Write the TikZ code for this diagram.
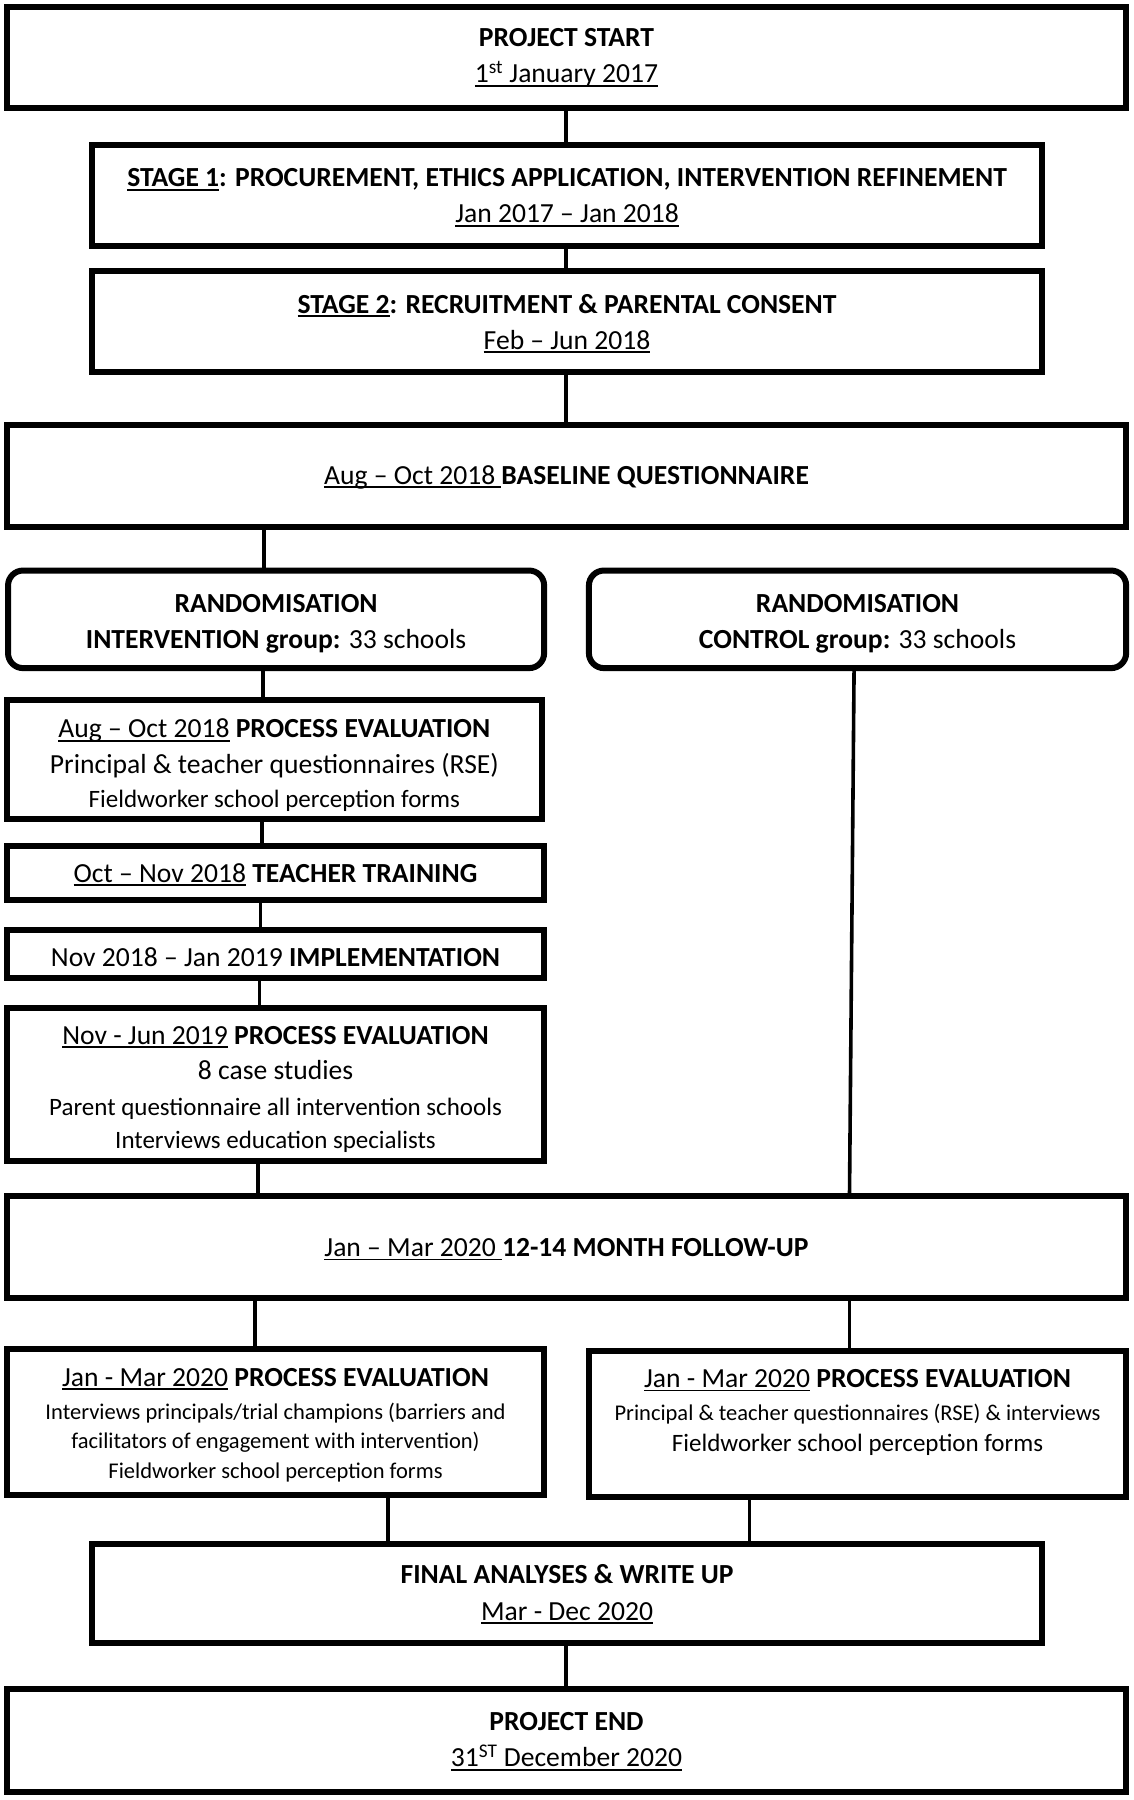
\documentclass[tikz,border=0pt]{standalone}
\usepackage{fontspec}
\setmainfont{Carlito}
\newsavebox\ulbox
\newcommand{\ulx}[1]{\leavevmode\sbox\ulbox{#1}\rlap{\rule[-3.8pt]{\wd\ulbox}{1.8pt}}\usebox\ulbox}
\newcommand{\tp}{\rule{0pt}{34pt}}
\newcommand{\bt}[1]{\rule[-#1pt]{0pt}{#1pt}}
\newcommand{\fsmain}{\fontsize{27.6}{36.2}\selectfont}
\newcommand{\fssmall}{\fontsize{25}{33}\selectfont}
\newcommand{\fsxs}{\fontsize{22.5}{30}\selectfont}
\tikzset{
  box/.style={draw, line width=6pt, rectangle, inner sep=0pt, outer sep=0pt, align=center, font=\fsmain},
  rbox/.style={box, rounded corners=15pt},
  boxat/.style n args={4}{at={({(#1+#3)/2},{(#2+#4)/2})},
      minimum width={(#3-#1)*1.148pt}, minimum height={(#4-#2)*1.148pt}},
  link/.style={line width=3.6pt},
}
\begin{document}
\begin{tikzpicture}[x=1.148pt, y=-1.148pt]
\useasboundingbox (0,0) rectangle (987,1568);
\fill[white] (0,0) rectangle (987,1568);

\node[box, boxat={6}{6}{981}{94}] (start)
  {\tp\textbf{PROJECT START}\\ \ulx{1\textsuperscript{st} January 2017}\bt{19.15}};
\node[box, boxat={80}{126}{908}{214}] (s1)
  {\tp\textbf{\ulx{STAGE 1}: PROCUREMENT, ETHICS APPLICATION, INTERVENTION REFINEMENT}\\ \ulx{Jan 2017 – Jan 2018}\bt{14.56}};
\node[box, boxat={80}{236}{908}{324}] (s2)
  {\tp\textbf{\ulx{STAGE 2}: RECRUITMENT \& PARENTAL CONSENT}\\ \ulx{Feb – Jun 2018}\bt{14.56}};
\node[box, boxat={6}{370}{981}{459}] (base)
  {\tp\ulx{Aug – Oct 2018 }\textbf{BASELINE QUESTIONNAIRE}\bt{17.47}};
\node[rbox, boxat={7}{497}{474}{582}] (rint)
  {\tp\textbf{RANDOMISATION}\\ \textbf{INTERVENTION group:} 33 schools\bt{11.12}};
\node[rbox, boxat={513}{497}{981}{582}] (rcon)
  {\tp\textbf{RANDOMISATION}\\ \textbf{CONTROL group:} 33 schools\bt{11.12}};
\node[box, boxat={6}{610}{472}{713}] (pe1)
  {\tp\ulx{Aug – Oct 2018} \textbf{PROCESS EVALUATION}\\[-0.6pt] Principal \& teacher questionnaires (RSE)\\[-1.8pt] {\fssmall Fieldworker school perception forms}\bt{7.16}};
\node[box, boxat={6}{737}{474}{784}] (train)
  {\tp\ulx{Oct – Nov 2018} \textbf{TEACHER TRAINING}\bt{15.17}};
\node[box, boxat={6}{810}{474}{852}] (impl)
  {\tp Nov 2018 – Jan 2019 \textbf{IMPLEMENTATION}\bt{9.43}};
\node[box, boxat={6}{878}{474}{1011}] (pe2)
  {\tp\ulx{Nov - Jun 2019} \textbf{PROCESS EVALUATION}\\[-0.6pt] 8 case studies\\[-0.6pt] {\fssmall Parent questionnaire all intervention schools}\\[-2.9pt] {\fssmall Interviews education specialists}\bt{9.4}};
\node[box, boxat={6}{1042}{981}{1131}] (follow)
  {\tp\ulx{Jan – Mar 2020 }\textbf{12-14 MONTH FOLLOW-UP}\bt{15.17}};
\node[box, boxat={6}{1175}{474}{1302}] (pe3)
  {\tp\ulx{Jan - Mar 2020} \textbf{PROCESS EVALUATION}\\[-2.9pt] {\fsxs Interviews principals/trial champions (barriers and}\\[-7.5pt] {\fsxs facilitators of engagement with intervention)}\\[-6.4pt] {\fsxs Fieldworker school perception forms}\bt{12.9}};
\node[box, boxat={513}{1177}{981}{1304}] (pe4)
  {\tp\ulx{Jan - Mar 2020} \textbf{PROCESS EVALUATION}\\[-2.9pt] {\fsxs Principal \& teacher questionnaires (RSE) \& interviews}\\[-5.2pt] {\fssmall Fieldworker school perception forms}\bt{42.7}};
\node[box, boxat={80}{1345}{908}{1431}] (final)
  {\tp\textbf{FINAL ANALYSES \& WRITE UP}\\ \ulx{Mar - Dec 2020}\bt{16.86}};
\node[box, boxat={6}{1471}{981}{1561}] (end)
  {\tp\textbf{PROJECT END}\\ \ulx{31\textsuperscript{ST} December 2020}\bt{16.86}};

\coordinate (xm) at (493,0);
\coordinate (xa) at (230,0);
\coordinate (xb) at (229,0);
\coordinate (xc) at (228,0);
\coordinate (xd) at (227,0);
\coordinate (xe) at (226,0);
\coordinate (xf) at (225,0);
\coordinate (xg) at (222,0);
\coordinate (xh) at (744,0);
\coordinate (xi) at (740,0);
\coordinate (xj) at (338,0);
\coordinate (xk) at (653,0);

\draw[link] (start.south -| xm) -- (s1.north -| xm);
\draw[link] (s1.south -| xm) -- (s2.north -| xm);
\draw[link] (s2.south -| xm) -- (base.north -| xm);
\draw[link] (base.south -| xa) -- (rint.north -| xa);
\draw[link] (rint.south -| xb) -- (pe1.north -| xb);
\draw[link] (pe1.south -| xc) -- (train.north -| xc);
\draw[link] (train.south -| xd) -- (impl.north -| xd);
\draw[link] (impl.south -| xe) -- (pe2.north -| xe);
\draw[link] (pe2.south -| xf) -- (follow.north -| xf);
\draw[link] (rcon.south -| xh) -- (follow.north -| xi);
\draw[link] (follow.south -| xg) -- (pe3.north -| xg);
\draw[link] (follow.south -| xi) -- (pe4.north -| xi);
\draw[link] (pe3.south -| xj) -- (final.north -| xj);
\draw[link] (pe4.south -| xk) -- (final.north -| xk);
\draw[link] (final.south -| xm) -- (end.north -| xm);
\end{tikzpicture}
\end{document}
